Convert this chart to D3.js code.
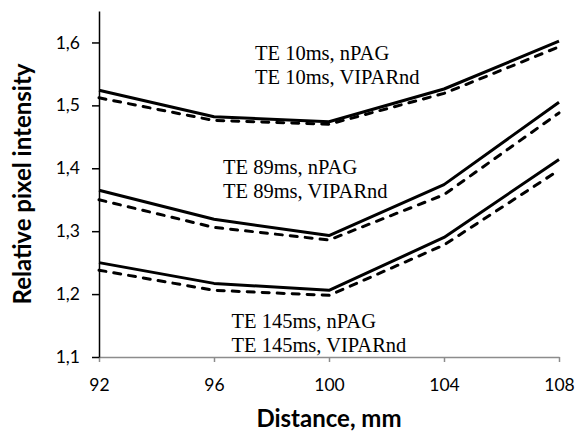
<!DOCTYPE html>
<html>
<head>
<meta charset="utf-8">
<script src="https://cdn.jsdelivr.net/npm/d3@7/dist/d3.min.js"></script>
<style>
  html, body { margin: 0; padding: 0; background: #fff; }
  svg { display: block; }
</style>
</head>
<body>
<svg id="chart" width="584" height="432"></svg>
<script>
// Distance along the phantom (mm)
const distances = [92, 96, 100, 104, 108];

// Relative pixel intensity per echo time and gel
const te10nPAG     = [1.524, 1.482, 1.474, 1.526, 1.602];
const te10VIPARnd  = [1.512, 1.476, 1.470, 1.519, 1.593];
const te89nPAG     = [1.365, 1.319, 1.293, 1.374, 1.505];
const te89VIPARnd  = [1.350, 1.306, 1.286, 1.358, 1.488];
const te145nPAG    = [1.250, 1.217, 1.206, 1.290, 1.414];
const te145VIPARnd = [1.238, 1.206, 1.198, 1.278, 1.397];

const yTicks = [1.1, 1.2, 1.3, 1.4, 1.5, 1.6];
const xTicks = [92, 96, 100, 104, 108];

const seriesNames = [
  "TE 10ms, nPAG", "TE 10ms, VIPARnd",
  "TE 89ms, nPAG", "TE 89ms, VIPARnd",
  "TE 145ms, nPAG", "TE 145ms, VIPARnd"
];
const seriesValues = [te10nPAG, te10VIPARnd, te89nPAG, te89VIPARnd, te145nPAG, te145VIPARnd];

const svg = d3.select("#chart");
const plot = { left: 99, right: 559, top: 11, bottom: 357 };

const x = d3.scaleLinear().domain([92, 108]).range([plot.left, plot.right]);
const y = d3.scaleLinear().domain([1.1, 1.65]).range([plot.bottom, plot.top]);
const fmt = d => d3.format(".1f")(d).replace(".", ",");

// X axis (grey)
const xAxis = svg.append("g")
  .attr("transform", `translate(0,${plot.bottom})`)
  .call(d3.axisBottom(x).tickValues(xTicks).tickSize(5).tickSizeOuter(0).tickPadding(10));
xAxis.select(".domain").attr("stroke", "#8c8c8c").attr("stroke-width", 1.5);
xAxis.selectAll(".tick line").attr("stroke", "#8c8c8c").attr("stroke-width", 1.5);
xAxis.selectAll(".tick text")
  .attr("font-family", "Lato, 'Open Sans', sans-serif")
  .attr("font-size", 17.5).attr("fill", "#000")
  .attr("y", 33.5).attr("dy", null);

// Y axis (black)
const yAxis = svg.append("g")
  .attr("transform", `translate(${plot.left},0)`)
  .call(d3.axisLeft(y).tickValues(yTicks).tickFormat(fmt).tickSize(7).tickSizeOuter(0).tickPadding(12));
yAxis.select(".domain").attr("stroke", "#000").attr("stroke-width", 1.5);
yAxis.selectAll(".tick line").attr("stroke", "#000").attr("stroke-width", 1.5);
yAxis.selectAll(".tick text")
  .attr("font-family", "Lato, 'Open Sans', sans-serif")
  .attr("font-size", 17.5).attr("fill", "#000");

// Series lines: solid for nPAG, dashed for VIPARnd
const line = d3.line()
  .x((d, i) => x(distances[i]))
  .y(d => y(d));

svg.append("g").selectAll("path")
  .data(seriesValues)
  .join("path")
  .attr("d", d => line(d))
  .attr("fill", "none")
  .attr("stroke", "#000")
  .attr("stroke-width", 3)
  .attr("stroke-linejoin", "round")
  .attr("stroke-linecap", (d, i) => i % 2 ? "round" : "butt")
  .attr("stroke-dasharray", (d, i) => i % 2 ? "7,8" : null);

// Series labels
const labelPos = [
  [255, 60], [255, 84],
  [223, 174], [223, 198],
  [231.5, 328], [231.5, 352]
];
svg.append("g").selectAll("text")
  .data(seriesNames)
  .join("text")
  .attr("x", (d, i) => labelPos[i][0])
  .attr("y", (d, i) => labelPos[i][1])
  .attr("font-family", "'Liberation Serif', 'Times New Roman', serif")
  .attr("font-size", 20.5)
  .attr("fill", "#000")
  .text(d => d);

// Axis titles
svg.append("text")
  .attr("x", (plot.left + plot.right) / 2).attr("y", 427)
  .attr("text-anchor", "middle")
  .attr("font-family", "Lato, 'Open Sans', sans-serif")
  .attr("font-weight", "bold").attr("font-size", 24)
  .text("Distance, mm");

svg.append("text")
  .attr("transform", `translate(31,${(plot.top + plot.bottom) / 2}) rotate(-90)`)
  .attr("text-anchor", "middle")
  .attr("font-family", "Lato, 'Open Sans', sans-serif")
  .attr("font-weight", "bold").attr("font-size", 24)
  .text("Relative pixel intensity");
</script>
</body>
</html>
